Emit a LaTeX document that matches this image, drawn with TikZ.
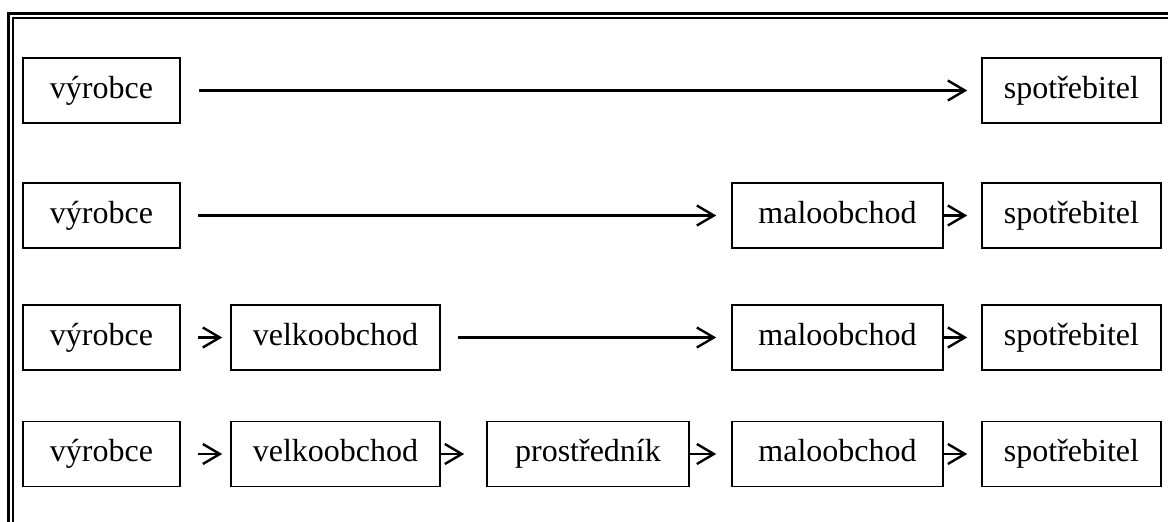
\documentclass[tikz,border=0pt]{standalone}
\usepackage{fontspec}
\setmainfont{Liberation Serif}
\usetikzlibrary{arrows.meta}
\begin{document}
\begin{tikzpicture}[x=1pt,y=-1pt,
  box/.style={draw, line width=1.6pt, minimum height=65pt, inner sep=0pt,
    text height=22pt, text depth=7pt,
    font=\fontsize{32}{38}\selectfont},
  arr/.style={line width=2.4pt, -{Straight Barb[length=17pt,width=20pt]}},
  outerline/.style={line width=3.5pt},
  innerline/.style={line width=1.4pt}]
\useasboundingbox (0,0) rectangle (1168,522);
% frame
\draw[outerline] (1168,13.5) -- (8.5,13.5) -- (8.5,522);
\draw[innerline] (1168,17.8) -- (12.8,17.8) -- (12.8,522);
% row 1
\node[box, minimum width=157pt] (v1) at (101.5,90.5) {výrobce};
\node[box, minimum width=179pt] (s1) at (1071.5,90.5) {spotřebitel};
\draw[arr, shorten <=18pt, shorten >=14pt] (v1.east) -- (s1.west);
% row 2
\node[box, minimum width=157pt] (v2) at (101.5,215.5) {výrobce};
\node[box, minimum width=211pt] (m2) at (837.5,215.5) {maloobchod};
\node[box, minimum width=179pt] (s2) at (1071.5,215.5) {spotřebitel};
\draw[arr, shorten <=17pt, shorten >=15pt] (v2.east) -- (m2.west);
\draw[arr, shorten >=14pt] (m2.east) -- (s2.west);
% row 3
\node[box, minimum width=157pt] (v3) at (101.5,337.5) {výrobce};
\node[box, minimum width=209pt] (k3) at (335.5,337.5) {velkoobchod};
\node[box, minimum width=211pt] (m3) at (837.5,337.5) {maloobchod};
\node[box, minimum width=179pt] (s3) at (1071.5,337.5) {spotřebitel};
\draw[arr, shorten <=17pt, shorten >=8pt] (v3.east) -- (k3.west);
\draw[arr, shorten <=17pt, shorten >=15pt] (k3.east) -- (m3.west);
\draw[arr, shorten >=14pt] (m3.east) -- (s3.west);
% row 4
\node[box, minimum width=157pt] (v4) at (101.5,454) {výrobce};
\node[box, minimum width=209pt] (k4) at (335.5,454) {velkoobchod};
\node[box, minimum width=202pt] (p4) at (588,454) {prostředník};
\node[box, minimum width=211pt] (m4) at (837.5,454) {maloobchod};
\node[box, minimum width=179pt] (s4) at (1071.5,454) {spotřebitel};
\draw[arr, shorten <=17pt, shorten >=8pt] (v4.east) -- (k4.west);
\draw[arr, shorten >=22pt] (k4.east) -- (p4.west);
\draw[arr, shorten >=15pt] (p4.east) -- (m4.west);
\draw[arr, shorten >=14pt] (m4.east) -- (s4.west);
\end{tikzpicture}
\end{document}
